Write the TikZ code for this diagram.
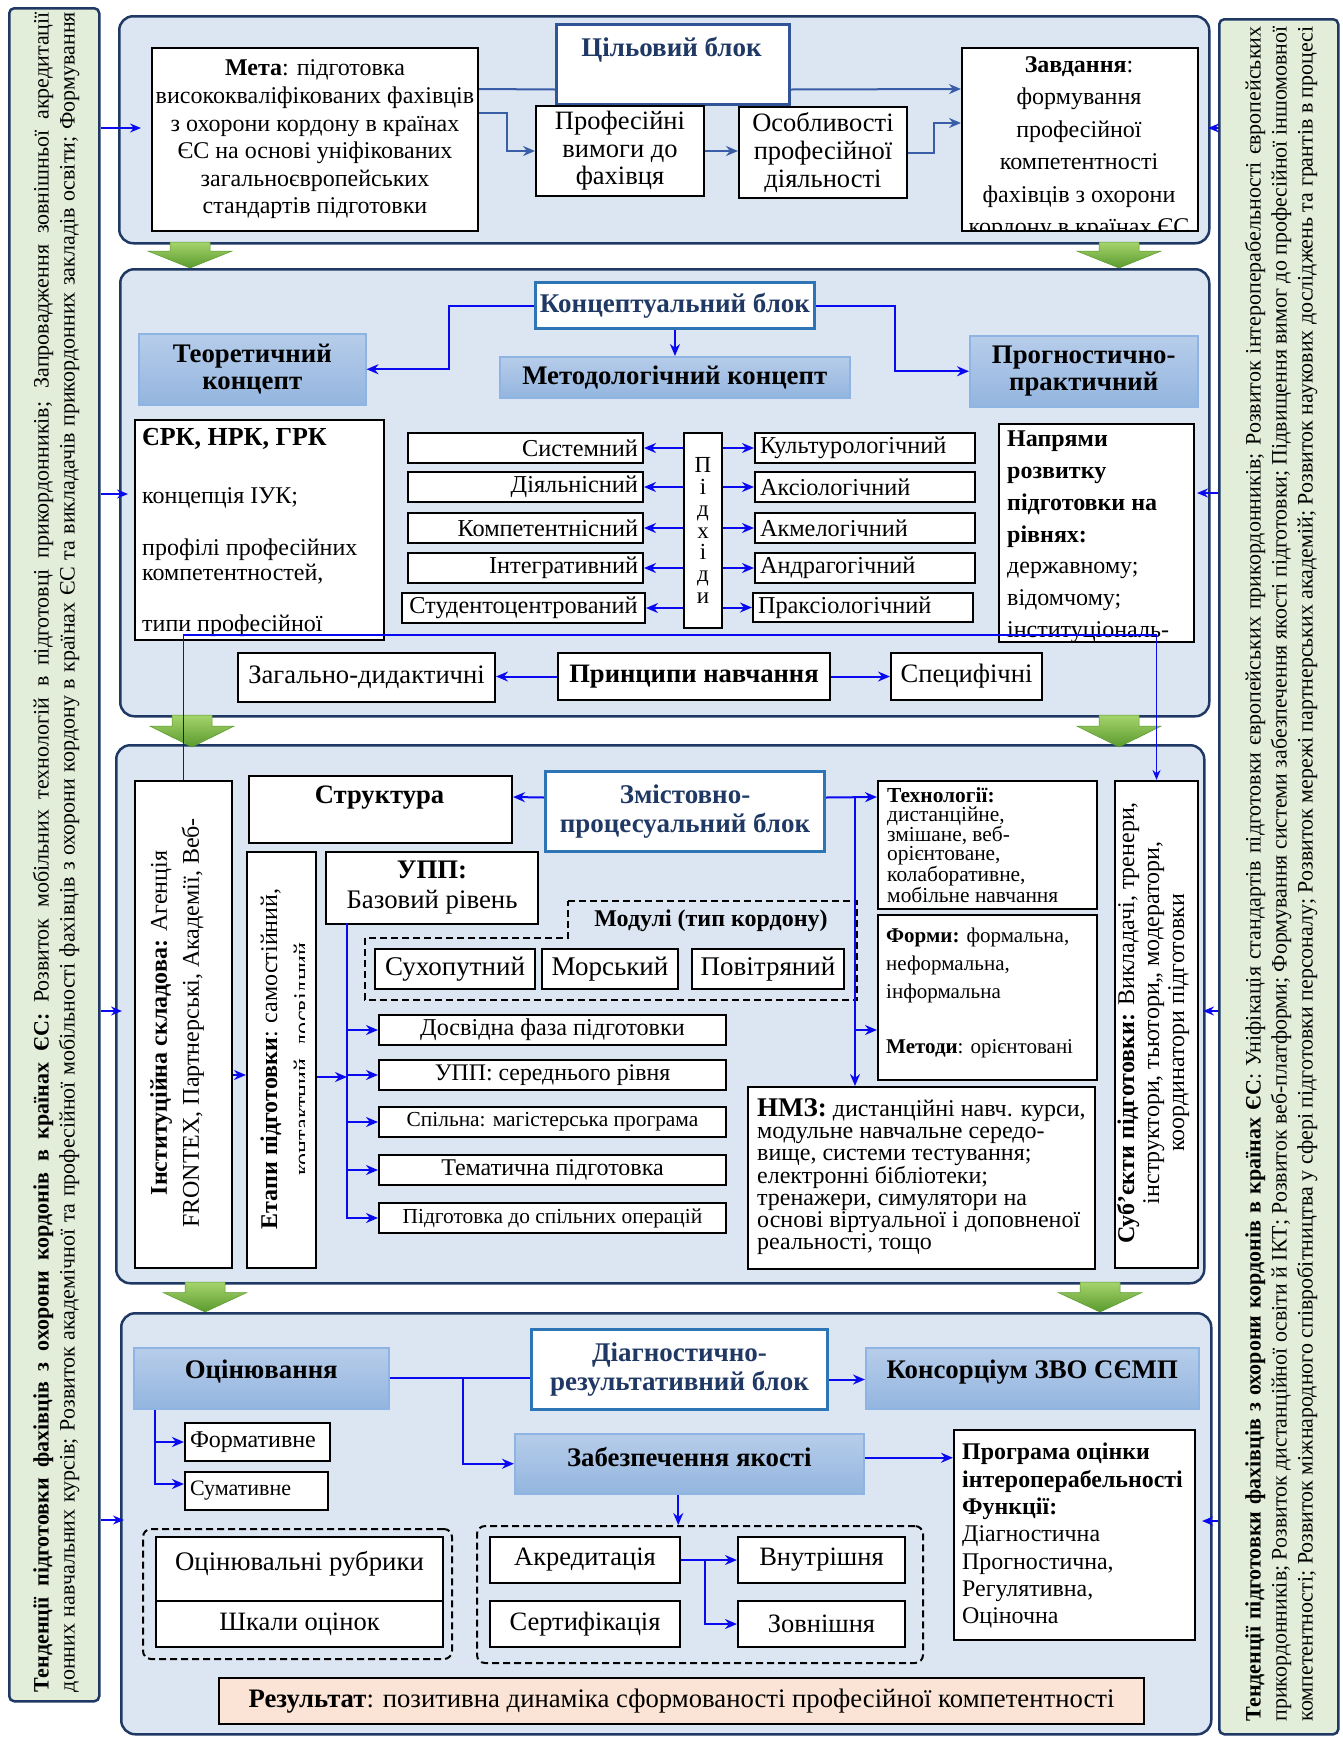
\documentclass[tikz,border=0pt]{standalone}
\usepackage{fontspec}
\usepackage{graphicx}
\setmainfont{Liberation Serif}
\usetikzlibrary{arrows.meta,calc}
\definecolor{navy}{HTML}{1F3864}
\definecolor{blkfill}{HTML}{DCE6F2}
\definecolor{sidefill}{HTML}{E3EEDA}
\definecolor{hdrblue}{HTML}{2E75B6}
\definecolor{hdrblueA}{HTML}{2F5597}
\definecolor{hdrtxt}{HTML}{1F3864}
\definecolor{gtop}{HTML}{B7CDEA}
\definecolor{gbot}{HTML}{93B5DF}
\definecolor{gbord}{HTML}{8DB4E2}
\definecolor{ablue}{HTML}{0A0AF0}
\definecolor{ablueA}{HTML}{3A5DA8}
\definecolor{grnA}{HTML}{A6D46C}
\definecolor{grnB}{HTML}{5A9A2E}
\definecolor{rezfill}{HTML}{FBE4D5}
\newcommand{\myfs}[2]{\fontsize{#1}{#2}\selectfont}
\newsavebox{\mylinebox}
\newcommand{\fitline}[2]{\sbox{\mylinebox}{#2}\ifdim\wd\mylinebox>#1\relax\resizebox{#1}{\height}{\usebox{\mylinebox}}\else\makebox[#1][s]{#2}\fi}
\newcommand{\bx}[7]{\node[#1,anchor=north west,minimum width={(#4)-(#2)},minimum height={(#5)-(#3)}] (#6) at (#2,#3) {#7};}
\newcommand{\garr}[3]{\shade[top color=grnA,bottom color=grnB,draw=grnB,line width=0.5pt]
 ({#1-20},#2) -- ({#1+20},#2) -- ({#1+20},{#2+0.35*(#3-#2)}) -- ({#1+42},{#2+0.35*(#3-#2)}) -- (#1,#3) -- ({#1-42},{#2+0.35*(#3-#2)}) -- ({#1-20},{#2+0.35*(#3-#2)}) -- cycle;}
\tikzset{
 blk/.style={draw=navy,line width=2.5pt,fill=blkfill,rounded corners=14pt,inner sep=0pt},
 side/.style={draw=navy,line width=2.5pt,fill=sidefill,rounded corners=5pt,inner sep=0pt},
 wb/.style={draw=black,line width=2pt,fill=white,inner sep=0pt,align=center},
 hb/.style={draw=hdrblue,line width=3pt,fill=white,inner sep=0pt,align=center,text=hdrtxt,font=\bfseries\myfs{27}{29}},
 gb/.style={draw=gbord,line width=1.5pt,top color=gtop,bottom color=gbot,inner sep=0pt,align=center,font=\bfseries\myfs{26.8}{26.5}},
 gbt/.style={inner sep=0pt,align=center,font=\bfseries\myfs{26.8}{26.5}},
 dg/.style={draw=black,line width=2pt,dash pattern=on 7pt off 4pt,rounded corners=8pt,inner sep=0pt},
 aA/.style={draw=ablueA,line width=2pt,-{Stealth[length=12pt,width=10pt]}},
 lA/.style={draw=ablueA,line width=2pt},
 a2/.style={draw=ablue,line width=2pt,-{Stealth[length=12pt,width=10pt]}},
 l2/.style={draw=ablue,line width=2pt},
 a3/.style={draw=ablue,line width=1.5pt,-{Stealth[length=11pt,width=9pt]}},
 a4/.style={draw=ablue,line width=1.3pt,-{Stealth[length=10pt,width=8pt]}},
 tx/.style={inner sep=0pt,align=left},
}
\begin{document}
\begin{tikzpicture}[x=1pt,y=-1pt]
\useasboundingbox (0,0) rectangle (1342,1738);
% side panels
\bx{side}{8}{7}{98}{1700}{lp}{}
\bx{side}{1218}{18}{1337}{1733}{rp}{}
\begin{scope}
\clip (9,8) rectangle (97,1699);
\node[rotate=90,inner sep=0pt,align=left,font=\myfs{22}{26}] (lpt) at (56,852) {\fitline{1680pt}{{\bfseries Тенденції підготовки фахівців з охорони кордонів в країнах ЄС:} Розвиток мобільних технологій в підготовці прикордонників; Запровадження зовнішньої акредитації}\\\fitline{1680pt}{донних навчальних курсів; Розвиток академічної та професійної мобільності фахівців з охорони кордону в країнах ЄС та викладачів прикордонних закладів освіти; Формування}};
\end{scope}
\begin{scope}
\clip (1219,19) rectangle (1336,1732);
\node[rotate=90,inner sep=0pt,align=left,font=\myfs{22}{26}] (rpt) at (1281,874) {\fitline{1695pt}{{\bfseries Тенденції підготовки фахівців з охорони кордонів в країнах ЄС}: Уніфікація стандартів підготовки європейських прикордонників; Розвиток інтероперабельності європейських}\\\fitline{1695pt}{прикордонників; Розвиток дистанційної освіти й ІКТ; Розвиток веб-платформи; Формування системи забезпечення якості підготовки; Підвищення вимог до професійної іншомовної}\\\fitline{1695pt}{компетентності; Розвиток міжнародного співробітництва у сфері підготовки персоналу; Розвиток мережі партнерських академій; Розвиток наукових досліджень та грантів в процесі}};
\end{scope}
% blocks
\bx{blk}{118}{15}{1208}{242}{b1}{}
\bx{blk}{119}{268}{1208}{715}{b2}{}
\bx{blk}{115}{744}{1203}{1282}{b3}{}
\bx{blk}{120}{1312}{1210}{1733}{b4}{}
\garr{190}{242}{268}
\garr{1119}{242}{268}
\garr{192}{715}{747}
\garr{1119}{715}{747}
\garr{205}{1282}{1312}
\garr{1100}{1282}{1312}
% side arrows
\coordinate (la1) at (141,128); \draw[a3] (lp.east |- la1) -- (la1);
\coordinate (la2) at (128,494); \draw[a3] (lp.east |- la2) -- (la2);
\coordinate (la3) at (122,1011); \draw[a3] (lp.east |- la3) -- (la3);
\coordinate (la4) at (124,1520); \draw[a3] (lp.east |- la4) -- (la4);
\coordinate (ra1) at (1208,128); \draw[a3] (rp.west |- ra1) -- (ra1);
\coordinate (ra2) at (1197,493); \draw[a3] (rp.west |- ra2) -- (ra2);
\coordinate (ra3) at (1203,1011); \draw[a3] (rp.west |- ra3) -- (ra3);
\coordinate (ra4) at (1202,1521); \draw[a3] (rp.west |- ra4) -- (ra4);
% ---------- block 1
\bx{wb,font=\myfs{24}{27.6}}{151}{47}{477}{230}{meta}{{\bfseries Мета}: підготовка\\висококваліфікованих фахівців\\з охорони кордону в країнах\\ЄС на основі уніфікованих\\загальноєвропейських\\стандартів підготовки}
\bx{hb,draw=hdrblueA}{555}{23}{788}{103}{cil}{}
\node[inner sep=0pt,text=hdrtxt,font=\bfseries\myfs{27}{29}] (cilt) at (671.5,50) {Цільовий блок};
\bx{wb,font=\myfs{26.5}{27.6}}{535}{105}{703}{195}{prof}{Професійні\\вимоги до\\фахівця}
\bx{wb,font=\myfs{26.5}{27.6}}{738}{106}{906}{197}{osob}{Особливості\\професійної\\діяльності}
\bx{wb}{961}{47}{1197}{230}{zavd}{}
\begin{scope}
\clip (962,48) rectangle (1196,229);
\node[inner sep=0pt,align=center,anchor=north,font=\myfs{24}{32.5}] (zavdt) at (1079,56) {{\bfseries Завдання}:\\формування\\професійної\\компетентності\\фахівців з охорони\\кордону в країнах ЄС};
\end{scope}
\draw[lA] ([yshift=50.5pt]meta.east) -- ([yshift=-25pt]cil.west);
\draw[aA] ([yshift=-25pt]cil.east) -- ([yshift=50.5pt]zavd.west);
\draw[aA] ([yshift=26.5pt]meta.east) -- ++(28,0) |- (prof.west);
\draw[aA] (prof.east) -- (prof.east -| osob.west);
\draw[aA] (osob.east) -- ++(26,0) |- ([yshift=16.5pt]zavd.west);
% ---------- block 2
\bx{hb}{534}{281}{813}{327}{kon}{Концептуальний блок}
\bx{gb}{138}{333}{365}{404}{teor}{Теоретичний\\концепт}
\bx{gb}{499}{356}{849}{397}{metod}{Методологічний концепт}
\bx{gb}{969}{335}{1197}{406}{prog}{Прогностично-\\практичний}
\draw[a2] (kon.west) -- ++(-85,0) |- (teor.east);
\draw[a2] (kon.south) -- (kon.south |- metod.north);
\draw[a2] (kon.east) -- ++(79,0) |- (prog.west);
\bx{wb}{134}{419}{383}{639}{erk}{}
\begin{scope}
\clip (135,420) rectangle (382,638);
\node[tx,anchor=north west,font=\myfs{24}{25.5}] (erkt) at (142,428) {{\bfseries\myfs{26}{29}ЄРК, НРК, ГРК}\\[32.5pt]концепція ІУК;\\[26.5pt]профілі професійних\\компетентностей,\\[25.5pt]типи професійної};
\end{scope}
\tikzset{ab/.style={wb,font=\myfs{24.3}{25}}}
\bx{ab,text width=225pt,align=right,inner xsep=5pt}{407}{432}{642}{462}{s1}{Системний}
\bx{ab,text width=225pt,align=right,inner xsep=5pt}{407}{471}{642}{501}{s2}{Діяльнісний}
\bx{ab,text width=225pt,align=right,inner xsep=5pt}{407}{512}{642}{542}{s3}{Компетентнісний}
\bx{ab,text width=225pt,align=right,inner xsep=5pt}{407}{552}{642}{582}{s4}{Інтегративний}
\bx{ab}{401}{592}{644}{622}{s5}{Студентоцентрований}
\bx{ab,text width=210pt,align=left,inner xsep=5pt}{754}{432}{974}{462}{r1}{Культурологічний}
\bx{ab,text width=210pt,align=left,inner xsep=5pt}{754}{471}{974}{501}{r2}{Аксіологічний}
\bx{ab,text width=210pt,align=left,inner xsep=5pt}{754}{512}{974}{542}{r3}{Акмелогічний}
\bx{ab,text width=210pt,align=left,inner xsep=5pt}{754}{552}{974}{582}{r4}{Андрагогічний}
\bx{ab,text width=210pt,align=left,inner xsep=5pt}{752}{592}{972}{621}{r5}{Праксіологічний}
\bx{wb,font=\myfs{23}{21.7}}{683}{432}{721}{627}{pd}{П\\і\\д\\х\\і\\д\\и}
\foreach \n in {1,...,5}{
 \draw[a2] (pd.west |- s\n.east) -- (s\n.east);
 \draw[a2] (pd.east |- r\n.west) -- (r\n.west);
}
\bx{wb}{998}{423}{1193}{641}{napr}{}
\begin{scope}
\clip (999,424) rectangle (1192,640);
\node[tx,anchor=north west,font=\myfs{24}{31.7}] (naprt) at (1007,431) {{\bfseries Напрями}\\{\bfseries розвитку}\\{\bfseries підготовки на}\\{\bfseries рівнях:}\\державному;\\відомчому;\\інституціональ-};
\end{scope}
\bx{wb,font=\myfs{26.6}{27}}{237}{652}{494}{701}{zag}{Загально-дидактичні}
\bx{wb,font=\bfseries\myfs{26.6}{27}}{557}{652}{829}{699}{prn}{Принципи навчання}
\bx{wb,font=\myfs{26.6}{27}}{890}{652}{1041}{699}{spc}{Специфічні}
\draw[a2] (prn.west) -- (prn.west -| zag.east);
\draw[a2] (prn.east) -- (prn.east -| spc.west);
% ---------- block 3
\bx{wb}{134}{780}{231}{1267}{inst}{}
\begin{scope}
\clip (135,781) rectangle (230,1266);
\node[rotate=90,inner sep=0pt,align=center,font=\myfs{24}{32}] (instt) at (177,1023) {{\bfseries Інституційна складова:} Агенція\\FRONTEX, Партнерські, Академії, Веб-};
\end{scope}
\bx{wb}{246}{851}{315}{1267}{etap}{}
\begin{scope}
\clip (247,852) rectangle (304,1266);
\node[rotate=90,inner sep=0pt,align=center,font=\myfs{24}{33}] (etapt) at (287.5,1059) {{\bfseries Етапи підготовки}: самостійний,\\контактний, досвідний};
\end{scope}
\bx{wb}{248}{775}{511}{842}{strk}{}
\node[inner sep=0pt,font=\bfseries\myfs{26.6}{27}] (strkt) at (379.5,798) {Структура};
\bx{hb}{544}{770}{823}{850}{zmist}{Змістовно-\\процесуальний блок}
\bx{wb,font=\myfs{26.8}{30}}{325}{851}{537}{923}{upp}{{\bfseries УПП:}\\Базовий рівень}
\draw[dg,rounded corners=0pt] (568,901) -- (857,901) -- (857,1000) -- (365,1000) -- (365,938) -- (568,938) -- cycle;
\node[inner sep=0pt,font=\bfseries\myfs{24}{24}] (modl) at (711,921) {Модулі (тип кордону)};
\bx{wb,font=\myfs{27}{27}}{374}{948}{534}{988}{suh}{Сухопутний}
\bx{wb,font=\myfs{27}{27}}{541}{948}{677}{988}{mor}{Морський}
\bx{wb,font=\myfs{27}{27}}{691}{948}{843}{988}{pov}{Повітряний}
\bx{wb,font=\myfs{24.2}{25}}{378}{1014}{725}{1044}{q1}{Досвідна фаза підготовки}
\bx{wb,font=\myfs{23.8}{25}}{378}{1059}{725}{1089}{q2}{УПП: середнього рівня}
\bx{wb,font=\myfs{21.4}{22}}{378}{1106}{725}{1136}{q3}{Спільна: магістерська програма}
\bx{wb,font=\myfs{24}{24}}{378}{1154}{725}{1184}{q4}{Тематична підготовка}
\bx{wb,font=\myfs{21.4}{22}}{378}{1202}{725}{1232}{q5}{Підготовка до спільних операцій}
\coordinate (vt) at (347,923);
\draw[a2] (vt) |- (q5.west);
\foreach \q in {q1,q2,q3,q4}{\draw[a2] (vt |- \q.west) -- (\q.west);}
\coordinate (eta) at ([yshift=-17pt]etap.east);
\draw[a2] (eta) -- (vt |- eta);
\draw[a2] ([yshift=-50.5pt]inst.east) -- ([yshift=-15pt]etap.west);
\bx{wb}{877}{780}{1096}{908}{tech}{}
\node[tx,anchor=north west,font=\myfs{21.4}{19.6}] (techt) at (887,787) {{\bfseries Технології:}\\дистанційне,\\змішане, веб-\\орієнтоване,\\колаборативне,\\мобільне навчання};
\bx{wb}{877}{914}{1096}{1079}{forms}{}
\node[tx,anchor=north west,font=\myfs{21}{28}] (formst) at (886,928) {{\bfseries Форми:} формальна,\\неформальна,\\інформальна\\[27pt]{\bfseries Методи}: орієнтовані};
\bx{wb}{747}{1086}{1094}{1268}{nmz}{}
\node[tx,anchor=north west,font=\myfs{24}{22}] (nmzt) at (757,1098) {{\bfseries\myfs{27}{22}НМЗ:} дистанційні навч. курси,\\модульне навчальне середо-\\вище, системи тестування;\\електронні бібліотеки;\\тренажери, симулятори на\\основі віртуальної і доповненої\\реальності, тощо};
\bx{wb}{1114}{780}{1197}{1267}{subj}{}
\node[rotate=90,inner sep=0pt,align=center,font=\myfs{24}{25}] (subjt) at (1153,1023) {{\bfseries Суб'єкти підготовки:} Викладачі, тренери,\\інструктори, тьютори,, модератори,\\координатори підготовки};
\draw[a2] ([yshift=14pt]zmist.west) -- ([yshift=12.5pt]strk.east);
\draw[a2] ([yshift=14pt]zmist.east) -- ([yshift=48pt]tech.west);
\coordinate (vb2) at ([xshift=29pt,yshift=14pt]zmist.east);
\draw[a2] (vb2) -- (vb2 |- nmz.north);
\coordinate (fw) at ([yshift=-32.5pt]forms.west);
\draw[a2] (vb2 |- fw) -- (fw);
% link line
\coordinate (lnk) at (600,635);
\draw[a4] (inst.north) |- (lnk) -| (subj.north);
% ---------- block 4
\bx{gb}{133}{1347}{388}{1408}{ocin}{}
\node[gbt] (ocint) at ([yshift=7pt]ocin.center) {Оцінювання};
\bx{hb}{530}{1328}{826}{1408}{diag}{Діагностично-\\результативний блок}
\bx{gb}{865}{1347}{1198}{1408}{kons}{}
\node[gbt] (konst) at ([yshift=6pt]kons.center) {Консорціум ЗВО СЄМП};
\bx{gb}{514}{1433}{863}{1493}{zab}{}
\node[gbt] (zabt) at ([yshift=7pt]zab.center) {Забезпечення якості};
\bx{wb,font=\myfs{24}{24},text width=135pt,align=left,inner xsep=5pt}{184}{1422}{329}{1460}{form}{Формативне}
\bx{wb,font=\myfs{22}{22},text width=133pt,align=left,inner xsep=5pt}{184}{1471}{327}{1509}{sum}{Сумативне}
\draw[l2] (ocin.east) -- (ocin.east -| diag.west);
\coordinate (ob) at ([xshift=73pt]ocin.east);
\draw[a2] (ob) |- (zab.west);
\coordinate (de) at ([yshift=-10pt]diag.east);
\draw[a2] (de) -- (de -| kons.west);
\coordinate (ov) at ([xshift=22pt]ocin.south west);
\draw[a2] (ov) |- ([yshift=7pt]sum.west);
\draw[a2] (ov |- form.west) -- (form.west);
\bx{dg}{142}{1528}{451}{1658}{dga}{}
\bx{dg}{476}{1525}{922}{1662}{dgb}{}
\bx{wb}{155}{1536}{442}{1600}{rubr}{}
\node[inner sep=0pt,font=\myfs{26.8}{27}] (rubrt) at ([yshift=5pt]rubr.center) {Оцінювальні рубрики};
\bx{wb,font=\myfs{26.5}{27}}{155}{1600}{442}{1646}{shk}{Шкали оцінок}
\bx{wb,font=\myfs{26.5}{27}}{489}{1536}{679}{1582}{akr}{Акредитація}
\bx{wb,font=\myfs{26.5}{27}}{489}{1600}{679}{1646}{sert}{Сертифікація}
\bx{wb,font=\myfs{26.5}{27}}{737}{1536}{904}{1582}{vn}{Внутрішня}
\bx{wb,font=\myfs{26.5}{27}}{737}{1600}{904}{1646}{zvn}{Зовнішня}
\draw[a2] (akr.east) -- (vn.west);
\coordinate (ak) at ([xshift=24pt]akr.east);
\draw[a2] (ak) |- (zvn.west);
\bx{wb}{953}{1429}{1194}{1639}{prg}{}
\node[tx,anchor=north west,font=\myfs{23.9}{27.3}] (prgt) at (962,1443) {{\bfseries Програма оцінки}\\{\bfseries інтероперабельності}\\{\bfseries Функції:}\\Діагностична\\Прогностична,\\Регулятивна,\\Оціночна};
\coordinate (ze) at ([yshift=6pt]zab.east);
\draw[a2] (ze) -- (ze -| prg.west);
\coordinate (zs) at ([xshift=-11pt]zab.south);
\draw[a2] (zs) -- (zs |- dgb.north);
\bx{wb,fill=rezfill,font=\myfs{26.7}{28}}{218}{1677}{1143}{1723}{rez}{{\bfseries Результат}: позитивна динаміка сформованості професійної компетентності}
\end{tikzpicture}
\end{document}
